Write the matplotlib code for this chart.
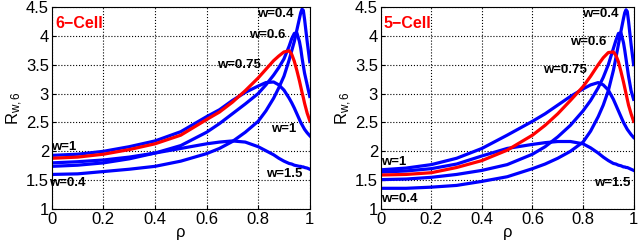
import matplotlib
matplotlib.use('Agg')
import matplotlib.pyplot as plt

plt.rcParams['font.family'] = ['Liberation Sans', 'DejaVu Sans']
plt.rcParams['mathtext.fontset'] = 'custom'
plt.rcParams['mathtext.rm'] = 'Liberation Sans'
plt.rcParams['mathtext.it'] = 'Liberation Sans:italic'

# rho sample points
rho = [0, 0.1, 0.2, 0.3, 0.4, 0.5, 0.6, 0.65, 0.7, 0.75, 0.8, 0.83, 0.86,
       0.88, 0.9, 0.92, 0.93, 0.94, 0.95, 0.96, 0.965, 0.97, 0.975, 0.98, 0.99, 1.0]

# 6-Cell panel
l_w04 = [1.60, 1.61, 1.65, 1.69, 1.74, 1.83, 1.96, 2.05, 2.17, 2.33, 2.52, 2.70, 2.92,
         3.10, 3.30, 3.58, 3.74, 3.90, 4.10, 4.30, 4.40, 4.46, 4.44, 4.28, 3.90, 3.55]
l_w06 = [1.74, 1.76, 1.80, 1.87, 1.97, 2.10, 2.33, 2.48, 2.65, 2.82, 3.00, 3.15, 3.32,
         3.45, 3.60, 3.82, 3.95, 4.04, 4.05, 3.90, 3.78, 3.62, 3.48, 3.35, 3.15, 2.95]
l_w075 = [1.88, 1.90, 1.95, 2.03, 2.13, 2.28, 2.55, 2.68, 2.85, 3.05, 3.27, 3.42, 3.57,
          3.65, 3.72, 3.74, 3.68, 3.56, 3.40, 3.22, 3.12, 3.02, 2.93, 2.83, 2.66, 2.53]
l_w1 = [1.93, 1.95, 2.00, 2.08, 2.18, 2.34, 2.60, 2.72, 2.88, 3.02, 3.13, 3.19, 3.20,
        3.15, 3.06, 2.92, 2.84, 2.75, 2.65, 2.55, 2.50, 2.46, 2.42, 2.38, 2.32, 2.27]
l_w15 = [1.80, 1.82, 1.85, 1.90, 1.97, 2.05, 2.13, 2.16, 2.18, 2.16, 2.08, 2.01, 1.94,
         1.88, 1.83, 1.79, 1.78, 1.76, 1.75, 1.74, 1.74, 1.73, 1.73, 1.72, 1.71, 1.69]

# 5-Cell panel
r_w04 = [1.36, 1.36, 1.38, 1.41, 1.48, 1.56, 1.70, 1.78, 1.88, 2.00, 2.16, 2.35, 2.60,
         2.80, 3.05, 3.40, 3.62, 3.85, 4.08, 4.30, 4.40, 4.45, 4.42, 4.25, 3.85, 3.50]
r_w06 = [1.51, 1.52, 1.55, 1.60, 1.67, 1.77, 1.95, 2.08, 2.25, 2.45, 2.70, 2.88, 3.10,
         3.28, 3.50, 3.78, 3.92, 4.04, 4.05, 3.88, 3.75, 3.60, 3.45, 3.30, 3.05, 2.90]
r_w075 = [1.59, 1.60, 1.63, 1.72, 1.84, 2.02, 2.28, 2.45, 2.65, 2.88, 3.12, 3.30, 3.50,
          3.62, 3.71, 3.72, 3.66, 3.55, 3.38, 3.20, 3.10, 3.00, 2.90, 2.80, 2.65, 2.52]
r_w1 = [1.68, 1.71, 1.77, 1.88, 2.05, 2.28, 2.52, 2.65, 2.80, 2.95, 3.08, 3.15, 3.19,
        3.15, 3.06, 2.90, 2.80, 2.70, 2.60, 2.50, 2.46, 2.42, 2.38, 2.35, 2.29, 2.24]
r_w15 = [1.64, 1.66, 1.70, 1.78, 1.92, 2.05, 2.12, 2.15, 2.17, 2.17, 2.13, 2.06, 1.97,
         1.90, 1.84, 1.79, 1.78, 1.76, 1.75, 1.73, 1.73, 1.72, 1.72, 1.71, 1.69, 1.67]

xticks = [0, 0.2, 0.4, 0.6, 0.8, 1]
xticklabels = ['0', '0.2', '0.4', '0.6', '0.8', '1']
yticks = [1, 1.5, 2, 2.5, 3, 3.5, 4, 4.5]
yticklabels = ['1', '1.5', '2', '2.5', '3', '3.5', '4', '4.5']

panels = [
    dict(pos=[0.081, 0.150, 0.403, 0.822], title='6\u2212Cell',
         blue=[l_w04, l_w06, l_w1, l_w15], red=l_w075,
         labels=[('w=0.4', 0.865, 4.38), ('w=0.6', 0.835, 4.02),
                 ('w=0.75', 0.725, 3.50), ('w=1', 0.90, 2.39),
                 ('w=1.5', 0.90, 1.60), ('w=1', 0.045, 2.08),
                 ('w=0.4', 0.06, 1.46)]),
    dict(pos=[0.595, 0.150, 0.395, 0.822], title='5\u2212Cell',
         blue=[r_w04, r_w06, r_w1, r_w15], red=r_w075,
         labels=[('w=0.4', 0.87, 4.38), ('w=0.6', 0.82, 3.90),
                 ('w=0.75', 0.73, 3.41), ('w=1.5', 0.915, 1.45),
                 ('w=1', 0.05, 1.82), ('w=0.4', 0.075, 1.18)]),
]

fig = plt.figure(figsize=(6.4, 2.46), dpi=100)

for p in panels:
    ax = fig.add_axes(p['pos'])
    for ys in p['blue']:
        ax.plot(rho, ys, color='#0000ff', lw=2.3)
    ax.plot(rho, p['red'], color='#ff0000', lw=2.3)

    for txt, x, y in p['labels']:
        ax.text(x, y, txt, fontsize=9.5, fontweight='bold', ha='center',
                va='center', color='black')
    ax.text(0.012, 4.22, p['title'], fontsize=11.5, fontweight='bold',
            color='red', ha='left', va='center')

    ax.set_xlim(0, 1)
    ax.set_ylim(1, 4.5)
    ax.set_xticks(xticks)
    ax.set_xticklabels(xticklabels)
    ax.set_yticks(yticks)
    ax.set_yticklabels(yticklabels)
    ax.tick_params(direction='in', length=3, labelsize=12, pad=2)
    ax.grid(True, color='black', linestyle=':', linewidth=0.8)
    for s in ax.spines.values():
        s.set_color('black')
        s.set_linewidth(0.8)
    ax.set_xlabel('\u03c1', fontsize=12, labelpad=-1)
    ax.set_ylabel('R$_{\\mathrm{w,6}}$', fontsize=12, labelpad=1)

plt.savefig('out.png', dpi=100)
plt.close()
